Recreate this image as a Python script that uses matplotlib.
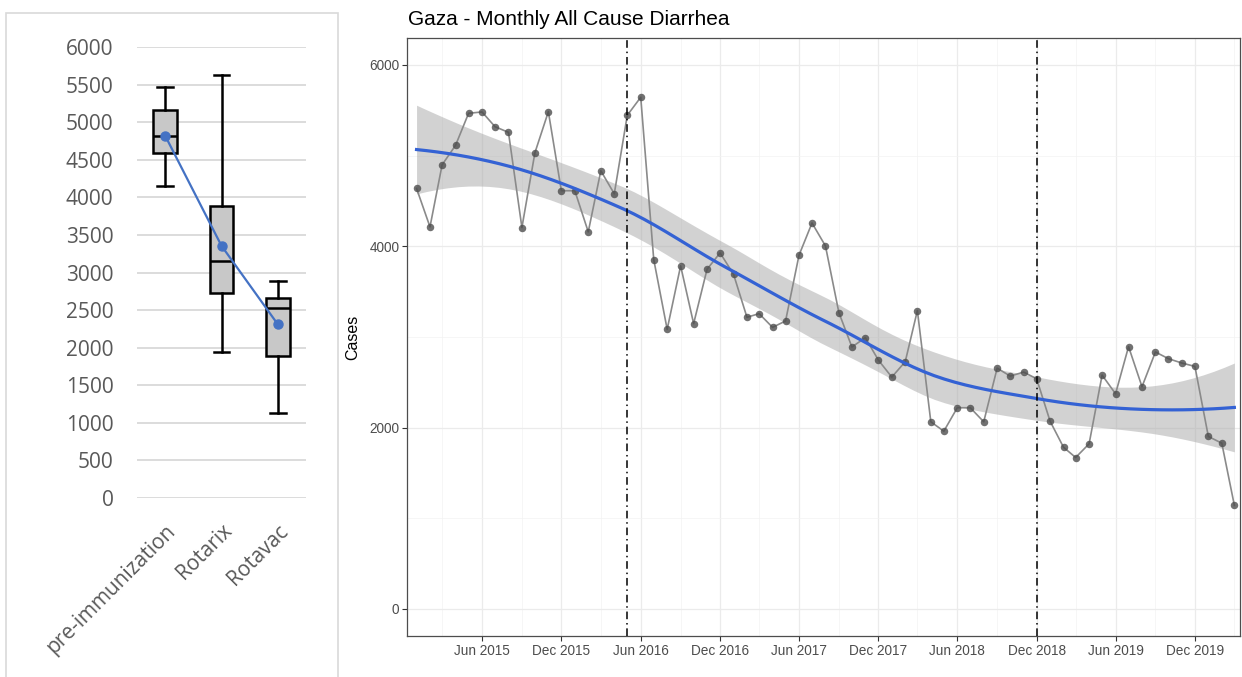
import numpy as np
import pandas as pd
import matplotlib
matplotlib.use('Agg')
import matplotlib.pyplot as plt
import matplotlib.dates as mdates
from matplotlib.patches import Rectangle

# left panel: box summary per vaccine period
groups = ['pre-immunization', 'Rotarix', 'Rotavac']
box_min = [4150, 1945, 1135]
box_q1 = [4585, 2730, 1895]
box_med = [4820, 3155, 2525]
box_q3 = [5160, 3890, 2665]
box_max = [5465, 5625, 2885]
box_mean = [4820, 3355, 2310]

# right panel: monthly all cause diarrhea cases, Jan 2015 - Mar 2020
months = pd.date_range('2015-01-01', '2020-03-01', freq='MS')
cases = [
    4638, 4213, 4898, 5113, 5466, 5481, 5318, 5256, 4206, 5031, 5484, 4612,
    4612, 4158, 4832, 4578, 5444, 5643, 3853, 3083, 3783, 3146, 3746, 3926,
    3691, 3216, 3256, 3105, 3175, 3900, 4256, 4003, 3267, 2888, 2991, 2744,
    2556, 2726, 3290, 2063, 1959, 2218, 2218, 2063, 2655, 2567, 2611, 2538,
    2070, 1782, 1669, 1820, 2578, 2372, 2892, 2450, 2833, 2759, 2711, 2674,
    1901, 1827, 1141,
]
vline_dates = ['2016-05-01', '2018-12-01']


def loess(x, y, xnew, span=0.75, cell=0.2):
    # local quadratic fit with tricube weights, evaluated on kd-tree vertices
    # and blended with cubic Hermite interpolation (roughly what R's loess does)
    n = len(x)
    q = int(np.floor(n * span))
    fc = int(np.floor(n * span * cell))

    def rows(x0):
        d = np.abs(x - x0)
        h = np.sort(d)[q - 1]
        w = (1 - np.clip(d / h, 0, 1) ** 3) ** 3
        X = np.column_stack([np.ones(n), x - x0, (x - x0) ** 2])
        XtW = X.T * w
        B = np.linalg.solve(XtW @ X, XtW)
        return B[0], B[1]

    xs = np.sort(x)
    pad = 0.005 * (xs[-1] - xs[0])
    verts = {xs[0] - pad, xs[-1] + pad}

    def split(pts):
        if len(pts) <= fc:
            return
        m = len(pts) // 2
        v = pts[m] if len(pts) % 2 else 0.5 * (pts[m - 1] + pts[m])
        verts.add(v)
        split(pts[pts <= v])
        split(pts[pts > v])

    split(xs)
    verts = np.array(sorted(verts))
    vf, vs = zip(*[rows(v) for v in verts])
    vf, vs = np.array(vf), np.array(vs)

    def interp(xq):
        out = []
        for x0 in xq:
            i = min(max(np.searchsorted(verts, x0) - 1, 0), len(verts) - 2)
            hh = verts[i + 1] - verts[i]
            u = (x0 - verts[i]) / hh
            h00 = 2 * u ** 3 - 3 * u ** 2 + 1
            h10 = u ** 3 - 2 * u ** 2 + u
            h01 = -2 * u ** 3 + 3 * u ** 2
            h11 = u ** 3 - u ** 2
            out.append(h00 * vf[i] + h10 * hh * vs[i] + h01 * vf[i + 1] + h11 * hh * vs[i + 1])
        return np.array(out)

    L = interp(x)
    Lnew = interp(xnew)
    fit = Lnew @ y
    res = y - L @ y
    IL = np.eye(n) - L
    M = IL.T @ IL
    d1 = np.trace(M)
    d2 = np.trace(M @ M)
    s = np.sqrt(np.sum(res ** 2) / d1)
    se = s * np.sqrt(np.sum(Lnew ** 2, axis=1))
    df = d1 ** 2 / d2
    z = 1.959964
    tq = z + (z ** 3 + z) / (4 * df) + (5 * z ** 5 + 16 * z ** 3 + 3 * z) / (96 * df ** 2)
    return fit, fit - tq * se, fit + tq * se


y = np.array(cases, dtype=float)
tx = (months - months[0]).days.values / 365.25
tgrid = np.linspace(tx.min(), tx.max(), 80)
fit, lo, hi = loess(tx, y, tgrid)
grid_dates = months[0] + pd.to_timedelta(tgrid * 365.25, unit='D')

W, H = 1242, 677


def frac(x0, y0, x1, y1):
    return [x0 / W, 1 - y1 / H, (x1 - x0) / W, (y1 - y0) / H]


fig = plt.figure(figsize=(W / 100, H / 100), dpi=100)

# ---- left: Excel style box plot
fig.add_artist(Rectangle((6 / W, -0.02), 332 / W, (677 - 13) / H + 0.02,
                         transform=fig.transFigure, fill=False,
                         ec='#D9D9D9', lw=1.2))
ax1 = fig.add_axes(frac(137, 47, 306, 498))
stats = [dict(label=g, whislo=a, q1=b, med=c, q3=d, whishi=e, fliers=[])
         for g, a, b, c, d, e in zip(groups, box_min, box_q1, box_med, box_q3, box_max)]
lk = dict(color='black', linewidth=1.8)
ax1.bxp(stats, positions=[1, 2, 3], widths=0.42, capwidths=0.28, patch_artist=True,
        showfliers=False,
        boxprops=dict(facecolor='#C8C8C8', edgecolor='black', linewidth=1.8),
        medianprops=lk, whiskerprops=lk, capprops=lk)
ax1.plot([1, 2, 3], box_mean, color='#4472C4', lw=1.6, marker='o', ms=6.5, zorder=5)
ax1.set_xlim(0.5, 3.5)
ax1.set_ylim(0, 6000)
ax1.set_yticks(np.arange(0, 6001, 500))
ax1.yaxis.grid(True, color='#D9D9D9', lw=1.3)
ax1.set_axisbelow(True)
for s in ax1.spines.values():
    s.set_visible(False)
ax1.tick_params(length=0, labelsize=15, labelcolor='#595959')
ax1.tick_params(axis='y', pad=17)
ax1.tick_params(axis='x', pad=16)
ax1.set_xticks([1, 2, 3], groups, rotation=45, ha='right', rotation_mode='anchor')
for lab in ax1.get_xticklabels() + ax1.get_yticklabels():
    lab.set_family('Open Sans')

# ---- right: ggplot style time series with loess smooth
ax2 = fig.add_axes(frac(407, 37.7, 1240, 636))
ax2.fill_between(grid_dates, lo, hi, color='#A6A6A6', alpha=0.5, lw=0, zorder=2)
ax2.plot(months, cases, color='#8A8A8A', lw=1.2, zorder=3)
ax2.plot(months, cases, 'o', color='#4D4D4D', alpha=0.8, ms=5.4, mec='none', zorder=4)
ax2.plot(grid_dates, fit, color='#3462D4', lw=2.3, zorder=5)
for d in vline_dates:
    ax2.axvline(pd.Timestamp(d), color='black', lw=1.1, ls=(0, (5, 2.5, 1, 2.5)), zorder=6)

ax2.set_xlim(pd.Timestamp('2014-12-10'), pd.Timestamp('2020-03-14'))
ax2.set_ylim(-300, 6300)
ax2.xaxis.set_major_locator(mdates.MonthLocator(bymonth=[6, 12]))
ax2.xaxis.set_minor_locator(mdates.MonthLocator(bymonth=[3, 9]))
ax2.xaxis.set_major_formatter(mdates.DateFormatter('%b %Y'))
ax2.set_yticks([0, 2000, 4000, 6000])
ax2.set_yticks([1000, 3000, 5000], minor=True)
ax2.grid(which='major', color='#EBEBEB', lw=0.9)
ax2.grid(which='minor', color='#F3F3F3', lw=0.5)
ax2.set_axisbelow(True)
for s in ax2.spines.values():
    s.set_color('#4D4D4D')
    s.set_linewidth(0.9)
ax2.tick_params(which='major', length=3.5, width=0.8, color='#333333',
                labelsize=9.8, labelcolor='#4D4D4D', pad=2)
ax2.tick_params(which='minor', length=0)
for lab in ax2.get_xticklabels() + ax2.get_yticklabels():
    lab.set_family('Liberation Sans')

fig.text(408 / W, 1 - 25 / H, 'Gaza - Monthly All Cause Diarrhea', fontsize=15,
         family='Liberation Sans', va='baseline', ha='left')
fig.text(353 / W, 1 - 337 / H, 'Cases', rotation=90, fontsize=11.5,
         family='Liberation Sans', ha='center', va='center')

fig.savefig('out.png', dpi=100)
